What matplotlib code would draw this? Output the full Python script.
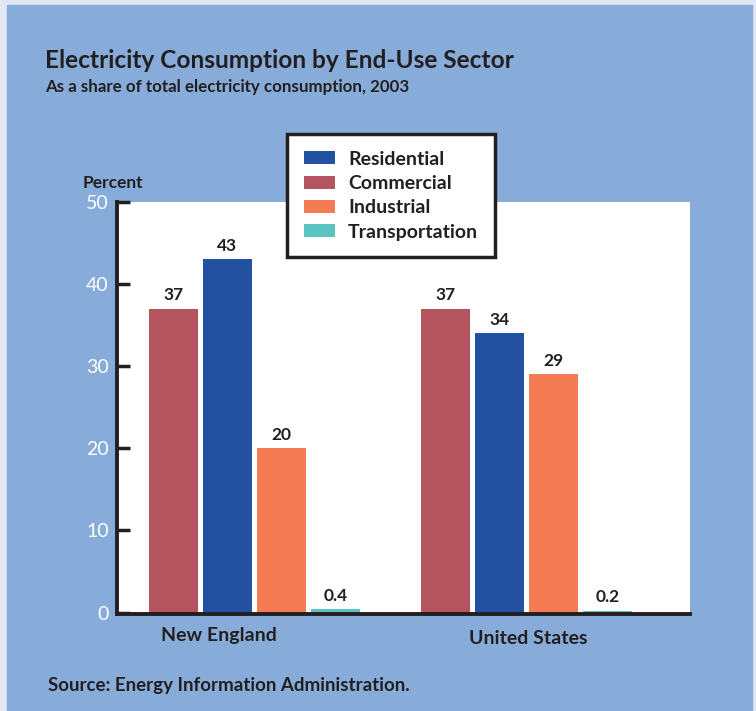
import numpy as np
import matplotlib.pyplot as plt
from matplotlib.patches import Rectangle

# data
regions = ['New England', 'United States']
sectors = ['Commercial', 'Residential', 'Industrial', 'Transportation']
legend_order = ['Residential', 'Commercial', 'Industrial', 'Transportation']
new_england = [37, 43, 20, 0.4]
united_states = [37, 34, 29, 0.2]
value_labels = [['37', '43', '20', '0.4'], ['37', '34', '29', '0.2']]

colors = {'Residential': '#2351a2', 'Commercial': '#b5545f',
          'Industrial': '#f47c55', 'Transportation': '#59c4c2'}
panel_blue = '#87acd9'
dark = '#231f20'

plt.rcParams['font.family'] = ['Lato', 'DejaVu Sans']

fig = plt.figure(figsize=(7.56, 7.11), dpi=100, facecolor='#e1e7f3')
# blue panel behind everything
fig.patches.append(Rectangle((7 / 756, 0), 745 / 756, 1 - 5 / 711,
                             transform=fig.transFigure, color=panel_blue, zorder=-10))

ax = fig.add_axes([117 / 756, 1 - 614 / 711, 573 / 756, 412 / 711])
ax.set_facecolor('white')

step = 54 / 272
width = 49 / 272
offsets = (np.arange(4) - 1.5) * step
groups = np.arange(len(regions))

handles = {}
for g, vals in enumerate([new_england, united_states]):
    for i, sec in enumerate(sectors):
        b = ax.bar(groups[g] + offsets[i], vals[i], width, color=colors[sec], zorder=2)
        handles[sec] = b
        ax.text(groups[g] + offsets[i], vals[i] + 0.7, value_labels[g][i],
                ha='center', va='bottom', fontsize=12.5, fontweight='bold', color=dark)

ax.set_xlim(-0.5055, 1.601)
# baseline sits on top of the thick axis line, as in the original
ax.set_ylim(-0.17, 50)
ax.set_yticks([0, 10, 20, 30, 40, 50])
ax.tick_params(axis='y', direction='in', length=9, width=2.5, color=dark,
               labelcolor='white', labelsize=14, pad=6)
ax.set_xticks([])
for s in ['top', 'right']:
    ax.spines[s].set_visible(False)
for s in ['left', 'bottom']:
    ax.spines[s].set_linewidth(2.8)
    ax.spines[s].set_color(dark)

# region labels sit a little left of their bar groups in the original
label_x = [-0.13, 1.005]
label_y = [-0.053, -0.06]
for x, y, name in zip(label_x, label_y, regions):
    ax.text(x, y, name, transform=ax.get_xaxis_transform(), ha='center', va='center',
            fontsize=14, fontweight='bold', color=dark)

ax.text(-0.007, 1.045, 'Percent', transform=ax.transAxes, ha='center', va='center',
        fontsize=12.5, fontweight='bold', color=dark)

fig.text(45 / 756, 1 - 60 / 711, 'Electricity Consumption by End-Use Sector',
         fontsize=17.6, fontweight='bold', color=dark, va='center')
fig.text(45 / 756, 1 - 87 / 711, 'As a share of total electricity consumption, 2003',
         fontsize=12.2, fontweight='bold', color=dark, va='center')
fig.text(48 / 756, 1 - 686 / 711, 'Source: Energy Information Administration.',
         fontsize=13.5, fontweight='bold', color=dark, va='center')

leg = fig.legend([handles[s] for s in legend_order], legend_order,
                 loc='upper left', bbox_to_anchor=(287 / 756, 1 - 134 / 711),
                 bbox_transform=fig.transFigure, fontsize=14, frameon=True,
                 fancybox=False, edgecolor=dark, framealpha=1,
                 handlelength=1.6, handleheight=0.65, handletextpad=0.7,
                 labelspacing=0.38, borderpad=0.85, borderaxespad=0)
leg.get_frame().set_linewidth(2.5)
for t in leg.get_texts():
    t.set_fontweight('bold')
    t.set_color(dark)
leg.set_zorder(5)

fig.savefig('out.png', dpi=100, facecolor=fig.get_facecolor())
